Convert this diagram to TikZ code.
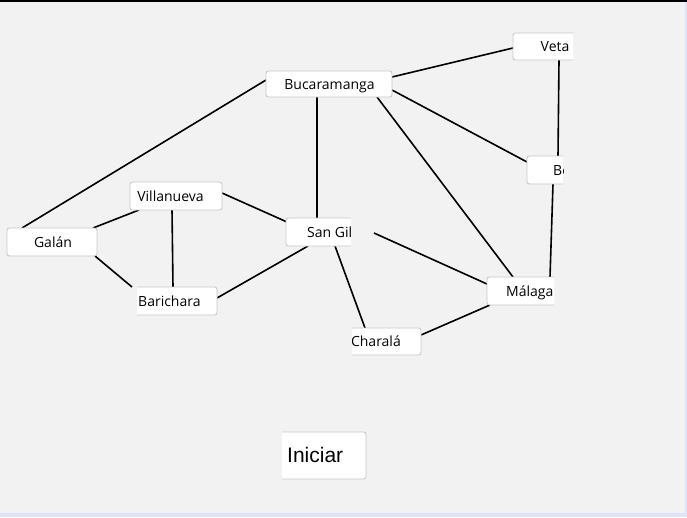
\documentclass[tikz,border=0pt]{standalone}
\usepackage{fontspec}
\setmainfont{Open Sans}
\newfontfamily\btnfont{Liberation Sans}
\pgfdeclarelayer{under}
\pgfsetlayers{under,main}
\definecolor{bgc}{RGB}{242,242,242}
\definecolor{lav}{RGB}{224,228,248}
\definecolor{brd}{RGB}{200,200,200}
\tikzset{
  boxc/.style={draw=brd, fill=white, rounded corners=2.5pt, line width=0.9pt, inner sep=0pt},
  lbl/.style={inner sep=0pt, font=\fontsize{14}{16}\selectfont, text=black},
  btnlbl/.style={inner sep=0pt, font=\btnfont\fontsize{21}{24}\selectfont, text=black},
  edge/.style={line width=1.6pt, black}
}
\begin{document}
\begin{tikzpicture}[x=1pt,y=-1pt]
\useasboundingbox (0,0) rectangle (687,517);
\begin{pgfonlayer}{under}
\fill[bgc] (0,0) rectangle (687,517);
\fill[lav] (685,2) rectangle (687,517);
\fill[lav] (0,513) rectangle (687,517);
\fill[black] (0,0) rectangle (687,2);
\end{pgfonlayer}

% nodes
\begin{scope}
\clip (500,20) rectangle (573,70);
\node[boxc, minimum width=80, minimum height=27] (veta) at (553,46.5) {};
\node[lbl, anchor=base west] (vetat) at (540.5,51.5) {Veta};
\end{scope}

\node[boxc, minimum width=126, minimum height=26] (buc) at (329,84) {};
\node[lbl, anchor=base] (buct) at (329.5,89) {Bucaramanga};

\begin{scope}
\clip (515,145) rectangle (563,195);
\node[boxc, minimum width=80, minimum height=28] (bo) at (567,170) {};
\node[lbl, anchor=base west] (bot) at (553,175) {Bo};
\end{scope}

\node[boxc, minimum width=92, minimum height=28] (vil) at (176,196) {};
\node[lbl, anchor=base] (vilt) at (170.5,201) {Villanueva};

\begin{scope}
\clip (275,205) rectangle (351,255);
\node[boxc, minimum width=90, minimum height=28] (sangil) at (331,232) {};
\node[lbl, anchor=base west] (sangilt) at (307,237) {San Gil};
\end{scope}

\node[boxc, minimum width=90, minimum height=28] (galan) at (52,242) {};
\node[lbl, anchor=base] (galant) at (53,247) {Galán};

\begin{scope}
\clip (475,265) rectangle (554,315);
\node[boxc, minimum width=80, minimum height=28] (malaga) at (527,291) {};
\node[lbl, anchor=base west] (malagat) at (506,296) {Málaga};
\end{scope}

\begin{scope}
\clip (137,275) rectangle (230,325);
\node[boxc, minimum width=90, minimum height=28] (bari) at (172,301) {};
\node[lbl, anchor=base west] (barit) at (138,306) {Barichara};
\end{scope}

\begin{scope}
\clip (352,315) rectangle (430,365);
\node[boxc, minimum width=89, minimum height=27] (charala) at (376.5,341.5) {};
\node[lbl, anchor=base east] (charalat) at (401,346.5) {Charalá};
\end{scope}

\begin{scope}
\clip (282,420) rectangle (375,490);
\node[boxc, minimum width=104, minimum height=47] (iniciar) at (314,455.5) {};
\node[btnlbl, anchor=base west] (iniciart) at (287,462) {Iniciar};
\end{scope}

% edges
\begin{pgfonlayer}{under}
\draw[edge] ([shift={(63,-7)}]buc.center) -- ([shift={(-40,1.5)}]veta.center);
\draw[edge] ([shift={(-63,-4)}]buc.center) -- ([shift={(-30,-14)}]galan.center);
\draw[edge] ([shift={(-12,13)}]buc.center) -- ([shift={(-14,-14)}]sangil.center);
\draw[edge] ([shift={(63,6)}]buc.center) -- ([shift={(-40,-8)}]bo.center);
\draw[edge] ([shift={(48,13)}]buc.center) -- ([shift={(-14,-14)}]malaga.center);
\draw[edge] ([shift={(6,13.5)}]veta.center) -- ([shift={(-9,-14)}]bo.center);
\draw[edge] ([shift={(-14,14)}]bo.center) -- ([shift={(23,-14)}]malaga.center);
\draw[edge] ([shift={(41,-14)}]galan.center) -- ([shift={(-37,14)}]vil.center);
\draw[edge] ([shift={(-4,14)}]vil.center) -- ([shift={(1,-14)}]bari.center);
\draw[edge] ([shift={(46,-3)}]vil.center) -- ([shift={(-44,-10)}]sangil.center);
\draw[edge] ([shift={(43,14)}]galan.center) -- ([shift={(-40,-14)}]bari.center);
\draw[edge] ([shift={(45,-3)}]bari.center) -- ([shift={(-23,14)}]sangil.center);
\draw[edge] ([shift={(43,1)}]sangil.center) -- ([shift={(-40,-7)}]malaga.center);
\draw[edge] ([shift={(4,14)}]sangil.center) -- ([shift={(-11.5,-13.5)}]charala.center);
\draw[edge] ([shift={(44.5,-6.5)}]charala.center) -- ([shift={(-37,14)}]malaga.center);
\end{pgfonlayer}
\end{tikzpicture}
\end{document}
